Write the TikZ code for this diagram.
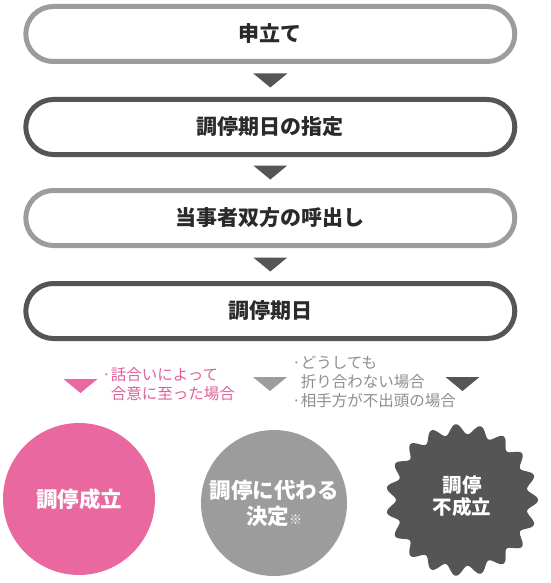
\documentclass[tikz,border=0pt]{standalone}
\usepackage{fontspec}
\setmainfont{Noto Sans CJK JP}
\usetikzlibrary{calc}
\definecolor{lgrey}{HTML}{9C9C9C}
\definecolor{ngrey}{HTML}{8E8E8E}
\definecolor{dgrey}{HTML}{555555}
\definecolor{pinkc}{HTML}{E8689F}
\definecolor{pinkt}{HTML}{E0609A}
\definecolor{txt}{HTML}{2A2A2A}
\tikzset{
  stepbox/.style={rounded corners=27.5pt, line width=5pt, minimum width=489pt, minimum height=55pt,
    inner sep=0pt, font=\fontsize{21}{25}\selectfont\bfseries, text=txt, fill=white},
  lightbox/.style={stepbox, draw=lgrey},
  darkbox/.style={stepbox, draw=dgrey},
  downtri/.pic={\fill (-17,-7) -- (17,-7) -- (0,7) -- cycle;},
  note/.style={anchor=north west, align=left, inner sep=0pt, font=\fontsize{15.5}{19}\selectfont},
  result/.style={circle, inner sep=0pt, text=white, align=center, font=\fontsize{21.5}{26}\selectfont\bfseries}
}
\begin{document}
\begin{tikzpicture}[x=1pt,y=-1pt]
\useasboundingbox (0,0) rectangle (550,583);
\node[lightbox] (b1) at (270.3,34) {申立て};
\node[darkbox]  (b2) at (270.3,127) {調停期日の指定};
\node[lightbox] (b3) at (270.3,218) {当事者双方の呼出し};
\node[darkbox]  (b4) at (270.3,311) {調停期日};
\coordinate (a1) at ($(b1.south)!0.5!(b2.north)$);
\coordinate (a2) at ($(b2.south)!0.5!(b3.north)$);
\coordinate (a3) at ($(b3.south)!0.5!(b4.north)$);
\pic[color=dgrey] at (a1) {downtri};
\pic[color=dgrey] at (a2) {downtri};
\pic[color=dgrey] at (a3) {downtri};
% branch markers
\coordinate (p1) at (80.5,386);
\coordinate (p2) at (270,384);
\coordinate (p3) at (462.5,384);
\pic[color=pinkc] at (p1) {downtri};
\pic[color=lgrey] at (p2) {downtri};
\pic[color=dgrey] at (p3) {downtri};
% notes
\node[note, text=pinkt] (n1) at (102,367) {·話合いによって\\\phantom{·}合意に至った場合};
\node[note, text=ngrey] (n2) at (292,356) {·どうしても\\\phantom{·}折り合わない場合\\·相手方が不出頭の場合};
% results
\node[result, fill=pinkc, minimum size=152pt] (r1) at (79,499) {調停成立};
\node[result, fill=lgrey, minimum size=146pt] (r2) at (274,503) {調停に代わる\\決定{\fontsize{13}{13}\selectfont ※}};
\fill[dgrey, shift={(462,500)}] plot[domain=0:360, samples=361, smooth] (\x:{71+5*cos(19*\x)}) -- cycle;
\node[result, font=\fontsize{19.5}{22}\selectfont\bfseries] (r3) at (462,496) {調停\\不成立};
\end{tikzpicture}
\end{document}
